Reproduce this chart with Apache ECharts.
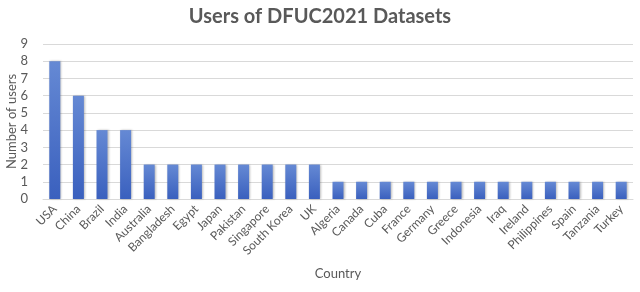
<!DOCTYPE html>
<html><head><meta charset="utf-8">
<script src="https://cdn.jsdelivr.net/npm/echarts@6/dist/echarts.min.js"></script>
<style>html,body{margin:0;padding:0;background:#fff}#c{width:640px;height:292px}</style>
</head><body><div id="c"></div>
<script>
const countries = ["USA","China","Brazil","India","Australia","Bangladesh","Egypt","Japan","Pakistan","Singapore","South Korea","UK","Algeria","Canada","Cuba","France","Germany","Greece","Indonesia","Iraq","Ireland","Philippines","Spain","Tanzania","Turkey"];
const users = [8,6,4,4,2,2,2,2,2,2,2,2,1,1,1,1,1,1,1,1,1,1,1,1,1];
const yTicks = [0,1,2,3,4,5,6,7,8,9];
const fontFam = "Lato, 'Open Sans', sans-serif";
const chart = echarts.init(document.getElementById('c'));
chart.setOption({
  animation:false,
  title:{text:"Users of DFUC2021 Datasets",left:'center',top:2,
    textStyle:{fontFamily:fontFam,fontSize:20,fontWeight:'bold',color:'#595959'}},
  grid:{left:43,right:7,top:44,bottom:93,containLabel:false,outerBoundsMode:'none'},
  xAxis:{type:'category',data:countries,
    name:'Country',nameLocation:'middle',nameGap:68,nameMoveOverlap:false,
    nameTextStyle:{fontFamily:fontFam,fontSize:13,color:'#595959'},
    axisLine:{lineStyle:{color:'#d9d9d9'}},axisTick:{show:false},
    axisLabel:{rotate:45,interval:0,fontFamily:fontFam,fontSize:12,color:'#595959',margin:8}},
  yAxis:{type:'value',min:yTicks[0],max:yTicks[yTicks.length-1],interval:1,
    name:'Number of users',nameLocation:'middle',nameGap:25,nameMoveOverlap:false,
    nameTextStyle:{fontFamily:fontFam,fontSize:13,color:'#595959'},
    axisLine:{show:false},axisTick:{show:false},
    axisLabel:{fontFamily:fontFam,fontSize:13,color:'#595959',margin:15},
    splitLine:{lineStyle:{color:'#d9d9d9'}}},
  series:[{type:'bar',data:users,barWidth:11,
    itemStyle:{color:new echarts.graphic.LinearGradient(0,0,0,1,[{offset:0,color:'#6589d4'},{offset:1,color:'#3a60be'}]),
      shadowColor:'rgba(0,0,0,0.25)',shadowBlur:2,shadowOffsetX:1,shadowOffsetY:0}}]
});
</script></body></html>
